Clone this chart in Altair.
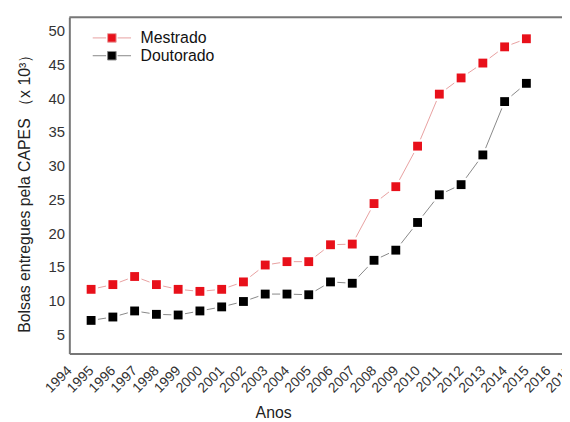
import altair as alt
import pandas as pd

years = list(range(1995, 2016))
mestrado = [11.7, 12.4, 13.6, 12.4, 11.7, 11.4, 11.7, 12.8, 15.3, 15.8, 15.8,
            18.3, 18.4, 24.4, 26.9, 32.9, 40.6, 43.0, 45.2, 47.6, 48.8]
doutorado = [7.1, 7.6, 8.5, 8.0, 7.9, 8.5, 9.1, 9.9, 11.0, 11.0, 10.9,
             12.8, 12.6, 16.0, 17.5, 21.6, 25.7, 27.2, 31.6, 39.5, 42.2]
series = ["Mestrado", "Doutorado"]
x_ticks = list(range(1994, 2018))
y_ticks = [5, 10, 15, 20, 25, 30, 35, 40, 45, 50]

rows = []
for name, vals in zip(series, [mestrado, doutorado]):
    for yr, v in zip(years, vals):
        rows.append({"ano": yr, "bolsas": v, "serie": name})
df = pd.DataFrame(rows)

FONT = "Liberation Sans"
W, H = 498, 340
PX_YEAR = 22.0
x_dom = [1994, 2017]
x_rng = [0, (x_dom[1] - x_dom[0]) * PX_YEAR]
y_dom = [2.2, 52.0]

xscale = alt.Scale(domain=x_dom, range=x_rng, nice=False, zero=False)
yscale = alt.Scale(domain=y_dom, nice=False, zero=False)

xaxis = alt.Axis(values=x_ticks, format="d", labelAngle=-45,
                 labelAlign="right", labelBaseline="middle",
                 labelPadding=15, labelFontSize=14, labelColor="#333",
                 labelFont=FONT, ticks=False, grid=False,
                 domainColor="#777", domainWidth=2,
                 labelOverlap=False, labelFlush=False,
                 title="Anos", titleFont=FONT, titleFontSize=16,
                 titleFontWeight="normal", titleColor="#222",
                 titleX=206, titleY=60, titleAlign="center",
                 titleBaseline="middle")
yaxis = alt.Axis(values=y_ticks, ticks=False, grid=False,
                 labelPadding=5, labelFontSize=15, labelColor="#333",
                 labelFont=FONT, domainColor="#777", domainWidth=2,
                 title="Bolsas entregues pela CAPES （x 10³）",
                 titleFont=FONT, titleFontSize=16,
                 titleFontWeight="normal", titleColor="#222",
                 titleX=-45, titleY=174, titleAngle=-90,
                 titleAlign="center", titleBaseline="middle")

xenc = alt.X("ano:Q", scale=xscale, axis=xaxis)
yenc = alt.Y("bolsas:Q", scale=yscale, axis=yaxis)

fill_scale = alt.Scale(domain=series, range=["#e8101a", "#000000"])
stroke_scale = alt.Scale(domain=series, range=["#e8a0a0", "#888888"])

legend = alt.Legend(title=None, orient="none", legendX=35, legendY=13,
                    symbolType="M-4.5,0H-1.35M-1,-1H1V1H-1ZM1.35,0H4.5",
                    symbolSize=74, symbolStrokeWidth=1,
                    labelFontSize=16, labelFont=FONT, labelColor="#111",
                    labelOffset=21, rowPadding=2)

base = alt.Chart(df)

lines = base.mark_line(strokeWidth=1).encode(
    x=xenc, y=yenc,
    stroke=alt.Stroke("serie:N", scale=stroke_scale, legend=legend),
    detail="serie:N",
)
gaps = base.mark_point(shape="square", filled=True, size=190, color="white", opacity=1).encode(
    x=xenc, y=yenc,
)
points = base.mark_point(shape="square", filled=True, size=80, opacity=1).encode(
    x=xenc, y=yenc,
    fill=alt.Fill("serie:N", scale=fill_scale, legend=legend),
)
top = alt.Chart(pd.DataFrame({"bolsas": [y_dom[1]]})).mark_rule(color="#777", strokeWidth=2).encode(
    y=yenc,
    x=alt.value(0), x2=alt.value(x_rng[1]),
)

chart = alt.layer(lines, gaps, points, top).properties(
    width=W, height=H,
    autosize=alt.AutoSizeParams(type="none"),
    padding={"left": 62, "top": 7, "right": 0, "bottom": 67},
).configure_view(stroke=None).configure(font=FONT)

chart.save("out.html", embed_options={"renderer": "svg", "actions": False})
